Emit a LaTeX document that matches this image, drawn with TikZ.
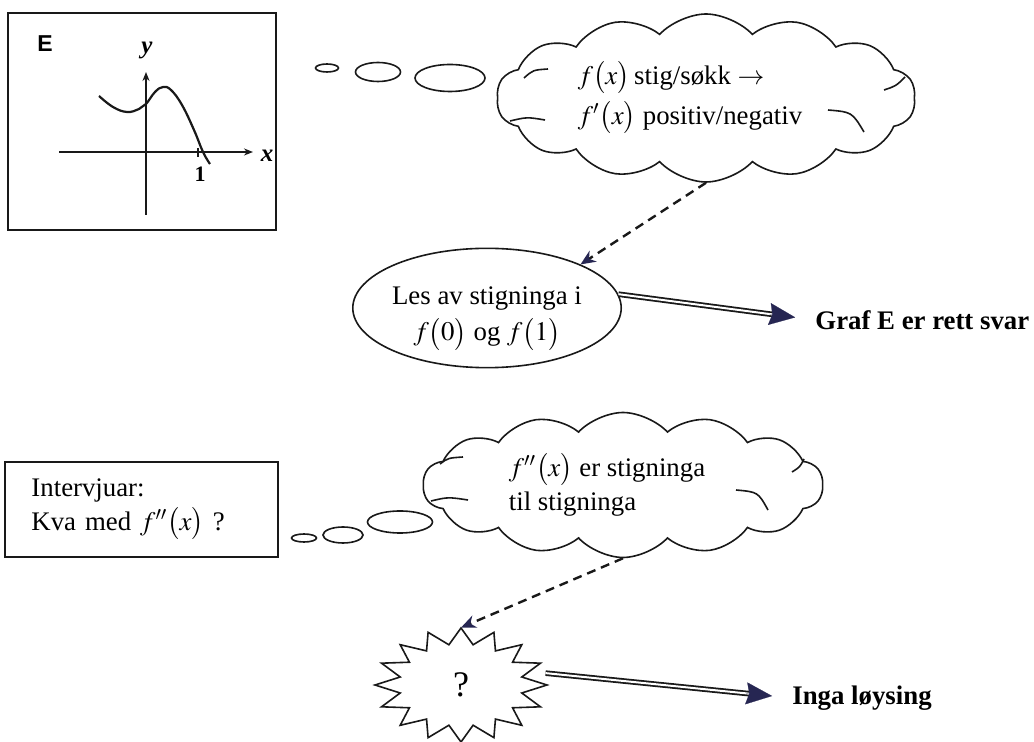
\documentclass[tikz,border=0pt]{standalone}
\usepackage{mathptmx}
\usepackage{fontspec}
\setmainfont{Liberation Serif}
\setsansfont{Liberation Sans}
\usepackage{tikz}
\usetikzlibrary{arrows.meta,shapes.symbols,shapes.geometric,calc}
\colorlet{tkline}{black!90}
\colorlet{tknavy}{blue!20!black!85}
\tikzset{
  tktext/.style={font=\fontsize{13.4}{17}\selectfont},
  tkframe/.style={draw=tkline,line width=1.2pt},
  tkcloud/.style={cloud,cloud puffs=14,cloud puff arc=95,cloud ignores aspect,
                  draw=tkline,line width=0.8pt,tktext,align=left,inner sep=0pt},
  tkcurl/.style={draw=tkline,line width=0.8pt},
  tkbubble/.style={ellipse,draw=tkline,line width=0.8pt,inner sep=0pt},
  tkoval/.style={ellipse,draw=tkline,line width=0.8pt,tktext,align=center,inner sep=0pt},
  tkhint/.style={-{Stealth[length=7.5pt,width=6.5pt,color=tknavy]},line width=1.2pt,
                 dash pattern=on 4.5pt off 3pt,tkline},
  tkdouble/.style={draw=tkline,double=white,double distance=1pt,line width=0.9pt,
                   shorten >=20pt},
  tktip/.style={-{Stealth[length=13pt,width=11pt,inset=1.5pt]},line width=0.1pt,tknavy},
  tkresult/.style={font=\fontsize{13.4}{17}\selectfont\bfseries,inner sep=0pt,anchor=west},
  tkaxis/.style={-{Stealth[length=4.5pt,width=3.5pt]},line width=1pt,tkline},
  tkstar/.style={draw=tkline,line width=0.8pt,line join=miter,fill=white}
}
\begin{document}
\begin{tikzpicture}[x=0.5pt,y=-0.5pt]
  \clip (0,0) rectangle (1034,742);
  \fill[white] (0,0) rectangle (1034,742);

  % graph E
  \node[tkframe,minimum width=134pt,minimum height=108.5pt] (graphbox) at (142,121.5) {};
  \node[font=\sffamily\bfseries\fontsize{11.5}{12}\selectfont] (glabel) at (45,44) {E};
  \node[font=\bfseries\itshape\fontsize{12.5}{13}\selectfont] (ylab) at (147,50) {y};
  \node[font=\bfseries\itshape\fontsize{12.5}{13}\selectfont] (xlab) at (267,156) {x};
  \node[font=\bfseries\fontsize{11}{12}\selectfont] (one) at (200,174) {1};
  \draw[tkaxis] (59,152) -- (253,152);
  \draw[tkaxis] (146,215) -- (146,72);
  \draw[line width=1pt,tkline] (198,148) -- (198,157);
  \draw[line width=1.1pt,tkline] plot[smooth,tension=0.7] coordinates
    {(99,96) (113,107) (127,112) (139,109) (146,104) (155,92) (163,87)
     (171,90) (182,105) (194,130) (203,152) (210,164)};

  % first thought
  \node[tkbubble,minimum width=11.5pt,minimum height=4pt] (ta1) at (327,68) {};
  \node[tkbubble,minimum width=22.5pt,minimum height=9.5pt] (ta2) at (378,72) {};
  \node[tkbubble,minimum width=35pt,minimum height=13.5pt] (ta3) at (450,78) {};
  \node[tkcloud,minimum width=209.5pt,minimum height=84pt] (slope) at (706,98)
    {$f\bigl(x\bigr)$\,stig/søkk $\rightarrow$\\[3pt]$f'\bigl(x\bigr)$ positiv/negativ\hspace*{16pt}};
  \draw[tkcurl] (524,78) .. controls (533,70) .. (548,69);
  \draw[tkcurl] (510,121) .. controls (527,117) .. (545,120);
  \draw[tkcurl] (884,90) .. controls (896,86) .. (905,77);
  \draw[tkcurl] (828,110) .. controls (852,112) .. (864,132);
  \node[tkoval,minimum width=133.5pt,minimum height=58.5pt] (les) at (487,308)
    {\mbox{}\\[2.5pt]Les av stigninga i\\[1pt]$f\bigl(0\bigr)$ og $f\bigl(1\bigr)$};
  \node[tkresult] (graf) at (815,320) {Graf E er rett svar};
  \draw[tkhint] (slope.south) -- (les.25);
  \draw[tkdouble] (les.6) -- (graf.west);
  \draw[tktip] ($(graf.west)!23pt!(les.6)$) -- ($(graf.west)!10pt!(les.6)$);

  % second thought
  \node[tkframe,tktext,minimum width=136.5pt,minimum height=47.5pt,text width=110pt,
        align=left] (ask) at (141.5,509.5) {Intervjuar:\\Kva med $f''\bigl(x\bigr)$ ?};
  \node[tkbubble,minimum width=12.5pt,minimum height=4pt] (tb1) at (304,538) {};
  \node[tkbubble,minimum width=20pt,minimum height=8pt] (tb2) at (343,535) {};
  \node[tkbubble,minimum width=32.5pt,minimum height=11pt] (tb3) at (400,522) {};
  \node[tkcloud,minimum width=200pt,minimum height=72.5pt] (curv) at (623,485)
    {$f''\bigl(x\bigr)$ er stigninga\hspace*{16pt}\\til stigninga};
  \draw[tkcurl] (440,464) .. controls (448,458) .. (463,457);
  \draw[tkcurl] (431,501) .. controls (448,497) .. (468,500);
  \draw[tkcurl] (792,472) .. controls (800,467) .. (804,459);
  \draw[tkcurl] (736,490) .. controls (758,492) .. (768,510);
  \draw[tkstar] ($(461,685)+(90:43pt and 28.5pt)$)
    \foreach \k in {0,...,15} {
      -- ($(461,685)+({101.25+22.5*\k}:31pt and 20.5pt)$)
      -- ($(461,685)+({112.5+22.5*\k}:43pt and 28.5pt)$)
    } -- cycle;
  \node[ellipse,inner sep=0pt,minimum width=86pt,minimum height=57pt,
        font=\fontsize{18}{20}\selectfont] (qm) at (461,685) {?};
  \node[tkresult] (inga) at (792,698) {Inga løysing};
  \draw[tkhint] (curv.south) -- (qm.north);
  \draw[tkdouble] (qm.8) -- (inga.west);
  \draw[tktip] ($(inga.west)!23pt!(qm.8)$) -- ($(inga.west)!10pt!(qm.8)$);
\end{tikzpicture}
\end{document}
